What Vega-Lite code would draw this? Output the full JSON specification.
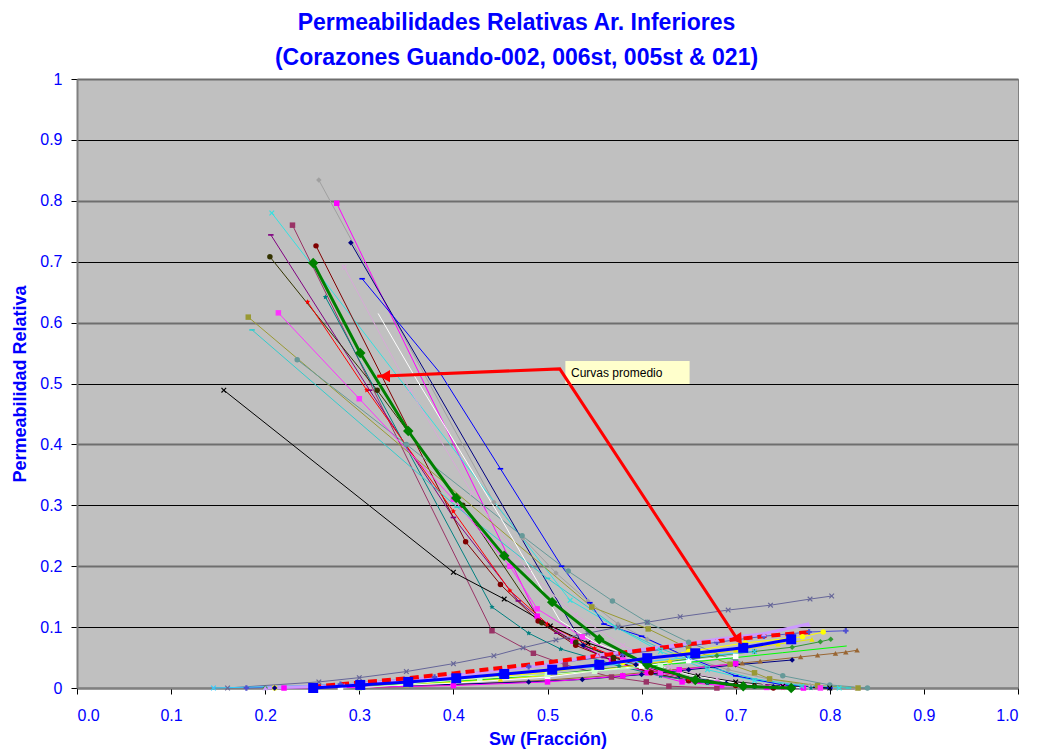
{
"$schema": "https://vega.github.io/schema/vega-lite/v6.json",
"width": 941, "height": 609,
"autosize": "none",
"padding": {"left": 77, "top": 79, "right": 24, "bottom": 67},
"background": "white",
"view": {"fill": "#C0C0C0", "stroke": "#808080", "strokeWidth": 1},
"config": {"font": "Liberation Sans"},
"title": {"text": ["Permeabilidades Relativas Ar. Inferiores", "(Corazones Guando-002, 006st, 005st & 021)"], "fontSize": 23, "fontWeight": "bold", "color": "#0000FF", "anchor": "middle", "dx": -31, "lineHeight": 35, "offset": 1},
"datasets": {
"curves": [
{"s":"k01","sw":0.257,"kr":0.834},{"s":"k01","sw":0.443,"kr":0.305},{"s":"k01","sw":0.474,"kr":0.246},{"s":"k01","sw":0.509,"kr":0.189},{"s":"k01","sw":0.543,"kr":0.143},{"s":"k01","sw":0.575,"kr":0.105},{"s":"k01","sw":0.606,"kr":0.08},{"s":"k01","sw":0.641,"kr":0.055},{"s":"k01","sw":0.692,"kr":0.03},{"s":"k01","sw":0.737,"kr":0.014},{"s":"k01","sw":0.779,"kr":0.004},{"s":"k01","sw":0.802,"kr":0},
{"s":"k02","sw":0.276,"kr":0.796},{"s":"k02","sw":0.489,"kr":0.118},{"s":"k02","sw":0.527,"kr":0.077},{"s":"k02","sw":0.568,"kr":0.045},{"s":"k02","sw":0.606,"kr":0.025},{"s":"k02","sw":0.643,"kr":0.01},{"s":"k02","sw":0.685,"kr":0.004},{"s":"k02","sw":0.733,"kr":0.001},{"s":"k02","sw":0.772,"kr":0},
{"s":"k03","sw":0.207,"kr":0.78},{"s":"k03","sw":0.524,"kr":0.144},{"s":"k03","sw":0.574,"kr":0.099},{"s":"k03","sw":0.62,"kr":0.06},{"s":"k03","sw":0.67,"kr":0.03},{"s":"k03","sw":0.72,"kr":0.012},{"s":"k03","sw":0.77,"kr":0.003},{"s":"k03","sw":0.81,"kr":0},
{"s":"k04","sw":0.229,"kr":0.76},{"s":"k04","sw":0.441,"kr":0.094},{"s":"k04","sw":0.485,"kr":0.057},{"s":"k04","sw":0.519,"kr":0.038},{"s":"k04","sw":0.568,"kr":0.018},{"s":"k04","sw":0.605,"kr":0.01},{"s":"k04","sw":0.629,"kr":0.003},{"s":"k04","sw":0.68,"kr":0},
{"s":"k05","sw":0.206,"kr":0.744},{"s":"k05","sw":0.311,"kr":0.489},{"s":"k05","sw":0.4,"kr":0.28},{"s":"k05","sw":0.469,"kr":0.143},{"s":"k05","sw":0.51,"kr":0.09},{"s":"k05","sw":0.56,"kr":0.05},{"s":"k05","sw":0.61,"kr":0.025},{"s":"k05","sw":0.66,"kr":0.01},{"s":"k05","sw":0.71,"kr":0.003},{"s":"k05","sw":0.75,"kr":0},
{"s":"k06","sw":0.254,"kr":0.726},{"s":"k06","sw":0.413,"kr":0.24},{"s":"k06","sw":0.45,"kr":0.17},{"s":"k06","sw":0.49,"kr":0.11},{"s":"k06","sw":0.53,"kr":0.07},{"s":"k06","sw":0.57,"kr":0.045},{"s":"k06","sw":0.61,"kr":0.025},{"s":"k06","sw":0.65,"kr":0.012},{"s":"k06","sw":0.7,"kr":0.004},{"s":"k06","sw":0.74,"kr":0},
{"s":"k07","sw":0.291,"kr":0.731},{"s":"k07","sw":0.538,"kr":0.07},{"s":"k07","sw":0.594,"kr":0.038},{"s":"k07","sw":0.64,"kr":0.02},{"s":"k07","sw":0.69,"kr":0.008},{"s":"k07","sw":0.74,"kr":0.002},{"s":"k07","sw":0.8,"kr":0},
{"s":"k08","sw":0.205,"kr":0.708},{"s":"k08","sw":0.319,"kr":0.489},{"s":"k08","sw":0.41,"kr":0.3},{"s":"k08","sw":0.494,"kr":0.107},{"s":"k08","sw":0.53,"kr":0.075},{"s":"k08","sw":0.57,"kr":0.05},{"s":"k08","sw":0.62,"kr":0.025},{"s":"k08","sw":0.67,"kr":0.01},{"s":"k08","sw":0.72,"kr":0.003},{"s":"k08","sw":0.76,"kr":0},
{"s":"k09","sw":0.284,"kr":0.691},{"s":"k09","sw":0.354,"kr":0.489},{"s":"k09","sw":0.42,"kr":0.32},{"s":"k09","sw":0.48,"kr":0.19},{"s":"k09","sw":0.53,"kr":0.12},{"s":"k09","sw":0.58,"kr":0.07},{"s":"k09","sw":0.63,"kr":0.035},{"s":"k09","sw":0.68,"kr":0.015},{"s":"k09","sw":0.73,"kr":0.005},{"s":"k09","sw":0.78,"kr":0.001},{"s":"k09","sw":0.829,"kr":0},
{"s":"k10","sw":0.303,"kr":0.672},{"s":"k10","sw":0.386,"kr":0.517},{"s":"k10","sw":0.45,"kr":0.36},{"s":"k10","sw":0.515,"kr":0.2},{"s":"k10","sw":0.545,"kr":0.14},{"s":"k10","sw":0.56,"kr":0.105},{"s":"k10","sw":0.6,"kr":0.085},{"s":"k10","sw":0.65,"kr":0.05},{"s":"k10","sw":0.7,"kr":0.02},{"s":"k10","sw":0.75,"kr":0.005},{"s":"k10","sw":0.8,"kr":0},
{"s":"k11","sw":0.264,"kr":0.642},{"s":"k11","sw":0.441,"kr":0.133},{"s":"k11","sw":0.48,"kr":0.09},{"s":"k11","sw":0.514,"kr":0.064},{"s":"k11","sw":0.576,"kr":0.036},{"s":"k11","sw":0.62,"kr":0.02},{"s":"k11","sw":0.67,"kr":0.008},{"s":"k11","sw":0.72,"kr":0.002},{"s":"k11","sw":0.78,"kr":0},
{"s":"k12","sw":0.245,"kr":0.634},{"s":"k12","sw":0.308,"kr":0.489},{"s":"k12","sw":0.4,"kr":0.29},{"s":"k12","sw":0.46,"kr":0.16},{"s":"k12","sw":0.5,"kr":0.105},{"s":"k12","sw":0.55,"kr":0.065},{"s":"k12","sw":0.6,"kr":0.035},{"s":"k12","sw":0.65,"kr":0.015},{"s":"k12","sw":0.7,"kr":0.005},{"s":"k12","sw":0.75,"kr":0},
{"s":"k13","sw":0.182,"kr":0.609},{"s":"k13","sw":0.547,"kr":0.133},{"s":"k13","sw":0.607,"kr":0.097},{"s":"k13","sw":0.65,"kr":0.065},{"s":"k13","sw":0.694,"kr":0.039},{"s":"k13","sw":0.72,"kr":0.025},{"s":"k13","sw":0.736,"kr":0.015},{"s":"k13","sw":0.787,"kr":0.004},{"s":"k13","sw":0.83,"kr":0},
{"s":"k14","sw":0.234,"kr":0.539},{"s":"k14","sw":0.35,"kr":0.4},{"s":"k14","sw":0.473,"kr":0.25},{"s":"k14","sw":0.522,"kr":0.192},{"s":"k14","sw":0.569,"kr":0.143},{"s":"k14","sw":0.606,"kr":0.108},{"s":"k14","sw":0.65,"kr":0.075},{"s":"k14","sw":0.7,"kr":0.045},{"s":"k14","sw":0.75,"kr":0.02},{"s":"k14","sw":0.8,"kr":0.005},{"s":"k14","sw":0.84,"kr":0},
{"s":"k15","sw":0.214,"kr":0.616},{"s":"k15","sw":0.3,"kr":0.475},{"s":"k15","sw":0.4,"kr":0.31},{"s":"k15","sw":0.46,"kr":0.2},{"s":"k15","sw":0.489,"kr":0.13},{"s":"k15","sw":0.537,"kr":0.084},{"s":"k15","sw":0.58,"kr":0.05},{"s":"k15","sw":0.62,"kr":0.025},{"s":"k15","sw":0.68,"kr":0.008},{"s":"k15","sw":0.75,"kr":0.002},{"s":"k15","sw":0.79,"kr":0},
{"s":"k16","sw":0.186,"kr":0.588},{"s":"k16","sw":0.404,"kr":0.297},{"s":"k16","sw":0.5,"kr":0.18},{"s":"k16","sw":0.574,"kr":0.099},{"s":"k16","sw":0.62,"kr":0.065},{"s":"k16","sw":0.67,"kr":0.035},{"s":"k16","sw":0.72,"kr":0.015},{"s":"k16","sw":0.77,"kr":0.004},{"s":"k16","sw":0.82,"kr":0},
{"s":"k17","sw":0.156,"kr":0.489},{"s":"k17","sw":0.4,"kr":0.19},{"s":"k17","sw":0.454,"kr":0.146},{"s":"k17","sw":0.503,"kr":0.102},{"s":"k17","sw":0.543,"kr":0.074},{"s":"k17","sw":0.58,"kr":0.055},{"s":"k17","sw":0.62,"kr":0.035},{"s":"k17","sw":0.66,"kr":0.02},{"s":"k17","sw":0.7,"kr":0.01},{"s":"k17","sw":0.75,"kr":0.003},{"s":"k17","sw":0.8,"kr":0},
{"s":"k18","sw":0.32,"kr":0.615},{"s":"k18","sw":0.361,"kr":0.506},{"s":"k18","sw":0.45,"kr":0.28},{"s":"k18","sw":0.513,"kr":0.111},{"s":"k18","sw":0.55,"kr":0.075},{"s":"k18","sw":0.6,"kr":0.045},{"s":"k18","sw":0.65,"kr":0.022},{"s":"k18","sw":0.7,"kr":0.008},{"s":"k18","sw":0.75,"kr":0.002},{"s":"k18","sw":0.78,"kr":0},
{"s":"w01","sw":0.16,"kr":0},{"s":"w01","sw":0.257,"kr":0.01},{"s":"w01","sw":0.3,"kr":0.017},{"s":"w01","sw":0.35,"kr":0.027},{"s":"w01","sw":0.4,"kr":0.04},{"s":"w01","sw":0.443,"kr":0.053},{"s":"w01","sw":0.474,"kr":0.066},{"s":"w01","sw":0.509,"kr":0.079},{"s":"w01","sw":0.543,"kr":0.09},{"s":"w01","sw":0.575,"kr":0.1},{"s":"w01","sw":0.606,"kr":0.108},{"s":"w01","sw":0.641,"kr":0.117},{"s":"w01","sw":0.692,"kr":0.128},{"s":"w01","sw":0.737,"kr":0.136},{"s":"w01","sw":0.779,"kr":0.146},{"s":"w01","sw":0.802,"kr":0.151},
{"s":"w02","sw":0.18,"kr":0},{"s":"w02","sw":0.28,"kr":0.006},{"s":"w02","sw":0.38,"kr":0.018},{"s":"w02","sw":0.48,"kr":0.035},{"s":"w02","sw":0.58,"kr":0.055},{"s":"w02","sw":0.68,"kr":0.075},{"s":"w02","sw":0.73,"kr":0.085},{"s":"w02","sw":0.778,"kr":0.092},{"s":"w02","sw":0.817,"kr":0.094},
{"s":"w03","sw":0.21,"kr":0},{"s":"w03","sw":0.3,"kr":0.003},{"s":"w03","sw":0.4,"kr":0.012},{"s":"w03","sw":0.5,"kr":0.026},{"s":"w03","sw":0.58,"kr":0.042},{"s":"w03","sw":0.65,"kr":0.06},{"s":"w03","sw":0.71,"kr":0.074},{"s":"w03","sw":0.771,"kr":0.084},{"s":"w03","sw":0.793,"kr":0.092},
{"s":"w04","sw":0.2,"kr":0},{"s":"w04","sw":0.3,"kr":0.003},{"s":"w04","sw":0.4,"kr":0.01},{"s":"w04","sw":0.5,"kr":0.022},{"s":"w04","sw":0.6,"kr":0.038},{"s":"w04","sw":0.68,"kr":0.053},{"s":"w04","sw":0.72,"kr":0.06},{"s":"w04","sw":0.76,"kr":0.067},{"s":"w04","sw":0.79,"kr":0.076},{"s":"w04","sw":0.801,"kr":0.08},
{"s":"w05","sw":0.22,"kr":0},{"s":"w05","sw":0.35,"kr":0.006},{"s":"w05","sw":0.45,"kr":0.015},{"s":"w05","sw":0.55,"kr":0.028},{"s":"w05","sw":0.65,"kr":0.042},{"s":"w05","sw":0.75,"kr":0.058},{"s":"w05","sw":0.818,"kr":0.069},
{"s":"w06","sw":0.3,"kr":0},{"s":"w06","sw":0.4,"kr":0.005},{"s":"w06","sw":0.5,"kr":0.013},{"s":"w06","sw":0.58,"kr":0.022},{"s":"w06","sw":0.64,"kr":0.031},{"s":"w06","sw":0.707,"kr":0.041},{"s":"w06","sw":0.726,"kr":0.044},{"s":"w06","sw":0.769,"kr":0.051},{"s":"w06","sw":0.787,"kr":0.054},{"s":"w06","sw":0.806,"kr":0.057},{"s":"w06","sw":0.817,"kr":0.059},{"s":"w06","sw":0.829,"kr":0.062},
{"s":"w07","sw":0.25,"kr":0},{"s":"w07","sw":0.35,"kr":0.005},{"s":"w07","sw":0.45,"kr":0.014},{"s":"w07","sw":0.55,"kr":0.028},{"s":"w07","sw":0.63,"kr":0.045},{"s":"w07","sw":0.7,"kr":0.062},{"s":"w07","sw":0.745,"kr":0.072},{"s":"w07","sw":0.781,"kr":0.08},
{"s":"w08","sw":0.2,"kr":0},{"s":"w08","sw":0.284,"kr":0.004},{"s":"w08","sw":0.4,"kr":0.02},{"s":"w08","sw":0.5,"kr":0.038},{"s":"w08","sw":0.553,"kr":0.054},{"s":"w08","sw":0.633,"kr":0.07},{"s":"w08","sw":0.68,"kr":0.08},{"s":"w08","sw":0.73,"kr":0.089},{"s":"w08","sw":0.777,"kr":0.105},
{"s":"w09","sw":0.25,"kr":0.002},{"s":"w09","sw":0.3,"kr":0.009},{"s":"w09","sw":0.35,"kr":0.016},{"s":"w09","sw":0.4,"kr":0.024},{"s":"w09","sw":0.45,"kr":0.033},{"s":"w09","sw":0.5,"kr":0.042},{"s":"w09","sw":0.55,"kr":0.052},{"s":"w09","sw":0.6,"kr":0.062},{"s":"w09","sw":0.65,"kr":0.072},{"s":"w09","sw":0.7,"kr":0.08},{"s":"w09","sw":0.75,"kr":0.088},{"s":"w09","sw":0.78,"kr":0.092},
{"s":"w10","sw":0.21,"kr":0},{"s":"w10","sw":0.3,"kr":0.002},{"s":"w10","sw":0.4,"kr":0.006},{"s":"w10","sw":0.48,"kr":0.01},{"s":"w10","sw":0.537,"kr":0.014},{"s":"w10","sw":0.6,"kr":0.022},{"s":"w10","sw":0.65,"kr":0.03},{"s":"w10","sw":0.7,"kr":0.038},{"s":"w10","sw":0.76,"kr":0.046},
{"s":"w11","sw":0.28,"kr":0},{"s":"w11","sw":0.4,"kr":0.008},{"s":"w11","sw":0.5,"kr":0.018},{"s":"w11","sw":0.55,"kr":0.028},{"s":"w11","sw":0.6,"kr":0.036},{"s":"w11","sw":0.65,"kr":0.045},{"s":"w11","sw":0.7,"kr":0.052},
{"s":"w12","sw":0.145,"kr":0},{"s":"w12","sw":0.25,"kr":0.004},{"s":"w12","sw":0.35,"kr":0.012},{"s":"w12","sw":0.45,"kr":0.022},{"s":"w12","sw":0.55,"kr":0.035},{"s":"w12","sw":0.65,"kr":0.05},{"s":"w12","sw":0.72,"kr":0.06},
{"s":"w14","sw":0.22,"kr":0},{"s":"w14","sw":0.3,"kr":0.001},{"s":"w14","sw":0.4,"kr":0.004},{"s":"w14","sw":0.5,"kr":0.01},{"s":"w14","sw":0.58,"kr":0.02},{"s":"w14","sw":0.64,"kr":0.03},{"s":"w14","sw":0.7,"kr":0.04},
{"s":"w16","sw":0.3,"kr":0},{"s":"w16","sw":0.428,"kr":0.016},{"s":"w16","sw":0.5,"kr":0.022},{"s":"w16","sw":0.55,"kr":0.028},{"s":"w16","sw":0.62,"kr":0.036}
],
"avg": [
{"s":"kro","sw":0.251,"kr":0.698},{"s":"kro","sw":0.301,"kr":0.55},{"s":"kro","sw":0.352,"kr":0.422},{"s":"kro","sw":0.403,"kr":0.312},{"s":"kro","sw":0.454,"kr":0.217},{"s":"kro","sw":0.505,"kr":0.141},{"s":"kro","sw":0.555,"kr":0.08},{"s":"kro","sw":0.606,"kr":0.038},{"s":"kro","sw":0.657,"kr":0.013},{"s":"kro","sw":0.708,"kr":0.003},{"s":"kro","sw":0.759,"kr":0},
{"s":"krw","sw":0.251,"kr":0},{"s":"krw","sw":0.301,"kr":0.005},{"s":"krw","sw":0.352,"kr":0.01},{"s":"krw","sw":0.403,"kr":0.016},{"s":"krw","sw":0.454,"kr":0.023},{"s":"krw","sw":0.505,"kr":0.03},{"s":"krw","sw":0.555,"kr":0.038},{"s":"krw","sw":0.606,"kr":0.049},{"s":"krw","sw":0.657,"kr":0.057},{"s":"krw","sw":0.708,"kr":0.066},{"s":"krw","sw":0.759,"kr":0.08}
],
"arrow": [{"sw":0.319,"kr":0.512},{"sw":0.513,"kr":0.524},{"sw":0.703,"kr":0.077}],
"head1": [{"sw":0.327,"kr":0.512}],
"head2": [{"sw":0.7024,"kr":0.0816}],
"box": [{"sw":0.519,"sw2":0.651,"kr":0.499,"kr2":0.537}],
"label": [{"sw":0.525,"kr":0.518,"t":"Curvas promedio"}]
},
"encoding": {
"x": {"field": "sw", "type": "quantitative", "scale": {"domain": [0, 1], "nice": false, "zero": false},
 "axis": {"title": "Sw (Fracción)", "titleColor": "#0000FF", "titleFontSize": 18, "titleFontWeight": "bold", "titlePadding": 7,
  "labelColor": "#0000FF", "labelFontSize": 16, "labelFontWeight": "normal", "format": ".1f", "values": [0,0.1,0.2,0.3,0.4,0.5,0.6,0.7,0.8,0.9,1],
  "tickSize": 6, "tickColor": "#000000", "domainColor": "#808080", "domainWidth": 2, "labelPadding": 13, "grid": false}},
"y": {"field": "kr", "type": "quantitative", "scale": {"domain": [0, 1], "nice": false, "zero": false},
 "axis": {"title": "Permeabilidad Relativa", "titleColor": "#0000FF", "titleFontSize": 18, "titleFontWeight": "bold", "titlePadding": 10,
  "labelColor": "#0000FF", "labelFontSize": 16, "format": ".1~f", "values": [0,0.1,0.2,0.3,0.4,0.5,0.6,0.7,0.8,0.9,1],
  "tickSize": 6, "tickColor": "#000000", "domainColor": "#808080", "domainWidth": 2, "labelPadding": 9,
  "grid": true,
  "gridColor": {"condition": {"test": "round(datum.value*10)%2==1", "value": "#000000"}, "value": "#6E6E6E"},
  "gridWidth": {"condition": {"test": "round(datum.value*10)%2==1", "value": 1}, "value": 2},
  "gridOpacity": 1}}
},
"layer": [
{"data": {"name": "curves"}, "transform": [{"filter": "datum.s != 'w08' && datum.s != 'w09'"}],
 "mark": {"type": "line", "strokeWidth": 1},
 "encoding": {"color": {"field": "s", "type": "nominal", "legend": null,
  "scale": {"domain": ["k01","k02","k03","k04","k05","k06","k07","k08","k09","k10","k11","k12","k13","k14","k15","k16","k17","k18","w01","w02","w03","w04","w05","w06","w07","w08","w09","w10","w11","w12","w14","w16"],
   "range": ["#A0A0A0","#FF00FF","#33E0E0","#993366","#800080","#800000","#000080","#333300","#D8A8D8","#0000FF","#008080","#FF0000","#999933","#669999","#FF33FF","#33CCCC","#000000","#FFFFFF","#666699","#5050D0","#FFFF00","#339933","#00FF00","#996633","#E8E800","#CC99FF","#FF0000","#000080","#FFFFFF","#33CCFF","#FF00FF","#CCFFCC"]}}}},
{"data": {"name": "curves"}, "transform": [{"filter": "datum.s == 'w08'"}],
 "mark": {"type": "line", "strokeWidth": 3, "color": "#CC99FF"}, "encoding": {}},
{"data": {"name": "curves"}, "transform": [{"filter": "datum.s == 'w09'"}],
 "mark": {"type": "line", "strokeWidth": 4, "color": "#FF0000", "strokeDash": [9, 5]}, "encoding": {}},
{"data": {"name": "curves"}, "transform": [{"filter": "datum.s != 'k18' && datum.s != 'w05' && datum.s != 'w09'"}],
 "mark": {"type": "point", "filled": true, "opacity": 1, "size": 30},
 "encoding": {
  "color": {"field": "s", "type": "nominal", "legend": null,
  "scale": {"domain": ["k01","k02","k03","k04","k05","k06","k07","k08","k09","k10","k11","k12","k13","k14","k15","k16","k17","k18","w01","w02","w03","w04","w05","w06","w07","w08","w09","w10","w11","w12","w14","w16"],
   "range": ["#A0A0A0","#FF00FF","#33E0E0","#993366","#800080","#800000","#000080","#333300","#D8A8D8","#0000FF","#008080","#FF0000","#999933","#669999","#FF33FF","#33CCCC","#000000","#FFFFFF","#666699","#5050D0","#FFFF00","#339933","#00FF00","#996633","#E8E800","#CC99FF","#FF0000","#000080","#FFFFFF","#33CCFF","#FF00FF","#CCFFCC"]}},
  "shape": {"field": "s", "type": "nominal", "legend": null,
  "scale": {"domain": ["k01","k02","k03","k04","k05","k06","k07","k08","k09","k10","k11","k12","k13","k14","k15","k16","k17","w01","w02","w03","w04","w06","w07","w08","w10","w11","w12","w14","w16"],
   "range": ["diamond","square","M-1,-0.7L-0.7,-1L0,-0.3L0.7,-1L1,-0.7L0.3,0L1,0.7L0.7,1L0,0.3L-0.7,1L-1,0.7L-0.3,0Z","square","M-1,-0.3H1V0.3H-1Z","circle","diamond","circle","M-1,-0.7L-0.7,-1L0,-0.3L0.7,-1L1,-0.7L0.3,0L1,0.7L0.7,1L0,0.3L-0.7,1L-1,0.7L-0.3,0Z","M-1,-0.3H1V0.3H-1Z","M0,-1L0.29,-0.4L0.95,-0.31L0.47,0.15L0.59,0.81L0,0.5L-0.59,0.81L-0.47,0.15L-0.95,-0.31L-0.29,-0.4Z","M0,-1L0.29,-0.4L0.95,-0.31L0.47,0.15L0.59,0.81L0,0.5L-0.59,0.81L-0.47,0.15L-0.95,-0.31L-0.29,-0.4Z","square","circle","square","M-1,-0.3H1V0.3H-1Z","M-1,-0.7L-0.7,-1L0,-0.3L0.7,-1L1,-0.7L0.3,0L1,0.7L0.7,1L0,0.3L-0.7,1L-1,0.7L-0.3,0Z","M-1,-0.7L-0.7,-1L0,-0.3L0.7,-1L1,-0.7L0.3,0L1,0.7L0.7,1L0,0.3L-0.7,1L-1,0.7L-0.3,0Z","cross","circle","diamond","triangle-up","triangle-up","triangle-up","diamond","square","M-1,-0.7L-0.7,-1L0,-0.3L0.7,-1L1,-0.7L0.3,0L1,0.7L0.7,1L0,0.3L-0.7,1L-1,0.7L-0.3,0Z","square","square"]}}}},
{"data": {"name": "avg"}, "transform": [{"filter": "datum.s == 'kro'"}],
 "mark": {"type": "line", "strokeWidth": 3, "color": "#008000"}, "encoding": {}},
{"data": {"name": "avg"}, "transform": [{"filter": "datum.s == 'kro'"}],
 "mark": {"type": "point", "shape": "diamond", "filled": true, "size": 110, "color": "#008000", "opacity": 1}},
{"data": {"name": "avg"}, "transform": [{"filter": "datum.s == 'krw'"}],
 "mark": {"type": "line", "strokeWidth": 3, "color": "#0000FF"}, "encoding": {}},
{"data": {"name": "avg"}, "transform": [{"filter": "datum.s == 'krw'"}],
 "mark": {"type": "point", "shape": "square", "filled": true, "size": 100, "color": "#0000FF", "opacity": 1}},
{"data": {"name": "box"}, "mark": {"type": "rect", "color": "#FFFFCC"},
 "encoding": {"x2": {"field": "sw2"}, "y2": {"field": "kr2"}}},
{"data": {"name": "label"}, "mark": {"type": "text", "align": "left", "baseline": "middle", "fontSize": 12, "color": "#000000"},
 "encoding": {"text": {"field": "t"}}},
{"data": {"name": "arrow"}, "mark": {"type": "line", "strokeWidth": 3, "color": "#FF0000"}, "encoding": {}},
{"data": {"name": "head1"}, "mark": {"type": "point", "shape": "triangle-left", "filled": true, "size": 150, "color": "#FF0000", "opacity": 1}},
{"data": {"name": "head2"}, "mark": {"type": "point", "shape": "triangle", "angle": 146.5, "filled": true, "size": 150, "color": "#FF0000", "opacity": 1}}
]
}
